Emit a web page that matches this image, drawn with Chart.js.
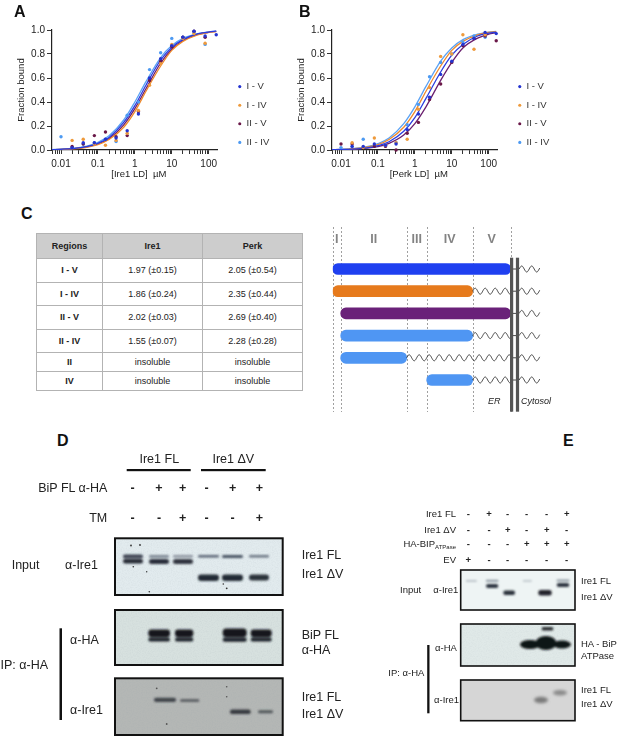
<!DOCTYPE html>
<html>
<head>
<meta charset="utf-8">
<script src="https://cdn.jsdelivr.net/npm/chart.js@4.4.1/dist/chart.umd.min.js"></script>
<style>
html,body{margin:0;padding:0;background:#fff;}
#root{position:relative;width:617px;height:736px;overflow:hidden;font-family:"Liberation Sans",Arial,Helvetica,sans-serif;color:#222;background:#fff;}
canvas{position:absolute;}
.letter{position:absolute;font-weight:bold;font-size:16px;line-height:16px;color:#111;}
table.kd{position:absolute;left:36px;top:233px;width:266px;border-collapse:collapse;table-layout:fixed;font-size:9px;color:#222;}
table.kd td,table.kd th{border:1px solid #b3b3b3;text-align:center;padding:0;}
table.kd th{background:#cdcdcd;font-weight:bold;height:24px;}
table.kd td.r{font-weight:bold;}
table.kd tr.a td{height:22.5px;}
table.kd tr.b td{height:18px;}
.sch{position:absolute;font-style:italic;font-size:9px;color:#222;}
svg{position:absolute;left:0;top:0;}
</style>
</head>
<body>
<div id="root">
  <canvas id="chartA" width="300" height="185" style="left:0;top:0;"></canvas>
  <canvas id="chartB" width="300" height="185" style="left:280px;top:0;"></canvas>
  <canvas id="chartC" width="297" height="230" style="left:320px;top:190px;"></canvas>
  <div class="letter" style="left:14px;top:4px;">A</div>
  <div class="letter" style="left:299px;top:4px;">B</div>
  <div class="letter" style="left:21px;top:206px;">C</div>
  <div class="letter" style="left:57px;top:433px;">D</div>
  <div class="letter" style="left:563px;top:433px;">E</div>

  <table class="kd">
    <colgroup><col style="width:66px"><col style="width:100px"><col style="width:100px"></colgroup>
    <tr><th>Regions</th><th>Ire1</th><th>Perk</th></tr>
    <tr class="a"><td class="r">I - V</td><td>1.97 (±0.15)</td><td>2.05 (±0.54)</td></tr>
    <tr class="a"><td class="r">I - IV</td><td>1.86 (±0.24)</td><td>2.35 (±0.44)</td></tr>
    <tr class="a"><td class="r">II - V</td><td>2.02 (±0.03)</td><td>2.69 (±0.40)</td></tr>
    <tr class="a"><td class="r">II - IV</td><td>1.55 (±0.07)</td><td>2.28 (±0.28)</td></tr>
    <tr class="b"><td class="r">II</td><td>insoluble</td><td>insoluble</td></tr>
    <tr class="b"><td class="r">IV</td><td>insoluble</td><td>insoluble</td></tr>
  </table>
  <div class="sch" style="left:488px;top:396px;">ER</div>
  <div class="sch" style="left:521px;top:396px;">Cytosol</div>

  <svg width="617" height="736" viewBox="0 0 617 736" font-family="Liberation Sans, Arial, sans-serif" fill="#222">
    <defs>
      <filter id="bl1" x="-30%" y="-200%" width="160%" height="500%"><feGaussianBlur stdDeviation="0.9"/></filter>
      <filter id="bl2" x="-30%" y="-200%" width="160%" height="500%"><feGaussianBlur stdDeviation="1.4"/></filter>
      <filter id="grain" x="0" y="0" width="100%" height="100%">
        <feTurbulence type="fractalNoise" baseFrequency="0.8" numOctaves="2" seed="7"/>
        <feColorMatrix type="matrix" values="0 0 0 0 0.3  0 0 0 0 0.35  0 0 0 0 0.4  0 0 0 -0.9 0.55"/>
      </filter>
    </defs>

    <!-- ===== Panel D ===== -->
    <g font-size="12.5">
      <text x="159.3" y="462.7" text-anchor="middle">Ire1 FL</text>
      <text x="233.3" y="462.7" text-anchor="middle">Ire1 ΔV</text>
      <rect x="126.7" y="469" width="64" height="2.2" fill="#111"/>
      <rect x="201" y="469" width="64.7" height="2.2" fill="#111"/>
      <text x="107.3" y="491.7" text-anchor="end">BiP FL α-HA</text>
      <text x="107.3" y="521.7" text-anchor="end">TM</text>
      <g text-anchor="middle" font-weight="bold">
        <text x="132.7" y="491.7">-</text><text x="159" y="491.7">+</text><text x="182.7" y="491.7">+</text>
        <text x="206.7" y="491.7">-</text><text x="232.7" y="491.7">+</text><text x="259.3" y="491.7">+</text>
        <text x="132.7" y="521.7">-</text><text x="159" y="521.7">-</text><text x="182.7" y="521.7">+</text>
        <text x="206.7" y="521.7">-</text><text x="232.7" y="521.7">-</text><text x="259.3" y="521.7">+</text>
      </g>
      <text x="11.7" y="569.4">Input</text>
      <text x="65" y="569.4">α-Ire1</text>
      <text x="301.7" y="559.4">Ire1 FL</text>
      <text x="301.7" y="577.7">Ire1 ΔV</text>
      <text x="0.5" y="669.4">IP: α-HA</text>
      <rect x="59.5" y="628.3" width="2.5" height="91.7" fill="#111"/>
      <text x="70" y="644.4">α-HA</text>
      <text x="70" y="714.4">α-Ire1</text>
      <text x="301.7" y="639.4">BiP FL</text>
      <text x="301.7" y="654.4">α-HA</text>
      <text x="301.7" y="701">Ire1 FL</text>
      <text x="301.7" y="717.7">Ire1 ΔV</text>
    </g>
    <!-- D input blot -->
    <rect x="115" y="538.3" width="167.7" height="56.7" fill="#e2ebee"/>
    <rect x="115" y="538.3" width="167.7" height="56.7" filter="url(#grain)" opacity="0.25"/>
    <g filter="url(#bl1)">
      <rect x="123" y="554.5" width="20" height="3.8" rx="1.9" fill="#3b4150"/>
      <rect x="123" y="559" width="20" height="4.5" rx="2.2" fill="#262b36"/>
      <rect x="149" y="555" width="20" height="2.8" rx="1.4" fill="#7c8592"/>
      <rect x="149" y="559" width="20" height="5" rx="2.5" fill="#2a2f3a"/>
      <rect x="173" y="555" width="20" height="2.6" rx="1.3" fill="#8a929e"/>
      <rect x="173" y="559" width="20" height="5" rx="2.5" fill="#30353f"/>
      <rect x="198" y="555" width="21" height="2.6" rx="1.3" fill="#5a6474"/>
      <rect x="198" y="574.5" width="21" height="6.5" rx="3" fill="#242934"/>
      <rect x="222" y="555" width="21" height="3" rx="1.5" fill="#4a5464"/>
      <rect x="222" y="574.5" width="21" height="6.5" rx="3" fill="#242934"/>
      <rect x="249" y="555" width="20" height="2.5" rx="1.2" fill="#6a7482"/>
      <rect x="249" y="574.5" width="20" height="6" rx="3" fill="#2c313b"/>
    </g>
    <g fill="#333">
      <circle cx="131" cy="545.5" r="0.9"/><circle cx="140" cy="545" r="0.9"/><circle cx="133.3" cy="566.7" r="0.8"/>
      <circle cx="146.7" cy="571.7" r="0.7"/><circle cx="149.3" cy="591.7" r="0.8"/><circle cx="226.7" cy="588.3" r="0.9"/><circle cx="223.3" cy="584" r="0.8"/>
    </g>
    <rect x="115" y="538.3" width="167.7" height="56.7" fill="none" stroke="#111" stroke-width="2"/>
    <!-- D alpha-HA blot -->
    <rect x="115" y="610" width="167.7" height="55" fill="#d7e1df"/>
    <rect x="115" y="610" width="167.7" height="55" filter="url(#grain)" opacity="0.25"/>
    <g filter="url(#bl1)" fill="#14171e">
      <rect x="148.3" y="629.5" width="21.7" height="7.5" rx="3"/>
      <rect x="148.3" y="637.5" width="21.7" height="4" rx="2" fill="#1e222a"/>
      <rect x="175" y="629.5" width="18.3" height="7.5" rx="3"/>
      <rect x="175" y="637.5" width="18.3" height="4" rx="2" fill="#1e222a"/>
      <rect x="222.7" y="628.5" width="24" height="8.5" rx="3.5"/>
      <rect x="222.7" y="637.5" width="24" height="4.2" rx="2" fill="#1e222a"/>
      <rect x="250.7" y="629.5" width="21" height="7.5" rx="3"/>
      <rect x="250.7" y="637.5" width="21" height="4" rx="2" fill="#1e222a"/>
    </g>
    <rect x="115" y="610" width="167.7" height="55" fill="none" stroke="#111" stroke-width="2"/>
    <!-- D IP alpha-Ire1 blot -->
    <rect x="115" y="678.3" width="167.7" height="56.7" fill="#b4b7b5"/>
    <rect x="115" y="678.3" width="167.7" height="56.7" filter="url(#grain)" opacity="0.3"/>
    <g filter="url(#bl1)">
      <rect x="154" y="697.8" width="22" height="4.2" rx="2" fill="#2e3138" opacity="0.85"/>
      <rect x="180" y="699" width="19.3" height="3" rx="1.5" fill="#44474d" opacity="0.75"/>
      <rect x="230" y="709.5" width="20.7" height="4.6" rx="2.2" fill="#2a2d33" opacity="0.9"/>
      <rect x="258" y="710.2" width="15" height="3" rx="1.5" fill="#3a3d42" opacity="0.8"/>
    </g>
    <g fill="#555">
      <circle cx="156.7" cy="688.3" r="0.9"/><circle cx="166.7" cy="724" r="0.9"/><circle cx="226.7" cy="696.7" r="0.8"/><circle cx="226.7" cy="686.7" r="0.8"/>
    </g>
    <rect x="115" y="678.3" width="167.7" height="56.7" fill="none" stroke="#111" stroke-width="2"/>

    <!-- ===== Panel E ===== -->
    <g font-size="9.5">
      <text x="456" y="517.4" text-anchor="end">Ire1 FL</text>
      <text x="456" y="532.7" text-anchor="end">Ire1 ΔV</text>
      <text x="456" y="546.7" text-anchor="end">HA-BIP<tspan font-size="6" dy="2">ATPase</tspan></text>
      <text x="456" y="562.7" text-anchor="end">EV</text>
      <g text-anchor="middle" font-weight="bold">
        <text x="468.3" y="517.4">-</text><text x="489" y="517.4">+</text><text x="507.7" y="517.4">-</text>
        <text x="526.7" y="517.4">-</text><text x="546.7" y="517.4">-</text><text x="566.7" y="517.4">+</text>
        <text x="468.3" y="532.7">-</text><text x="489" y="532.7">-</text><text x="507.7" y="532.7">+</text>
        <text x="526.7" y="532.7">-</text><text x="546.7" y="532.7">+</text><text x="566.7" y="532.7">-</text>
        <text x="468.3" y="546.7">-</text><text x="489" y="546.7">-</text><text x="507.7" y="546.7">-</text>
        <text x="526.7" y="546.7">+</text><text x="546.7" y="546.7">+</text><text x="566.7" y="546.7">+</text>
        <text x="468.3" y="562.7">+</text><text x="489" y="562.7">-</text><text x="507.7" y="562.7">-</text>
        <text x="526.7" y="562.7">-</text><text x="546.7" y="562.7">-</text><text x="566.7" y="562.7">-</text>
      </g>
      <text x="400" y="592.7">Input</text>
      <text x="433.3" y="592.7">α-Ire1</text>
      <text x="581" y="584.4">Ire1 FL</text>
      <text x="581" y="600">Ire1 ΔV</text>
      <text x="388.3" y="676">IP: α-HA</text>
      <rect x="427.2" y="645" width="2.3" height="68.3" fill="#111"/>
      <text x="435" y="651">α-HA</text>
      <text x="434" y="703.4">α-Ire1</text>
      <text x="581" y="646.7">HA - BiP</text>
      <text x="581" y="659.4">ATPase</text>
      <text x="581" y="693.4">Ire1 FL</text>
      <text x="581" y="706.7">Ire1 ΔV</text>
    </g>
    <!-- E input blot -->
    <rect x="460.7" y="570" width="114.3" height="40" fill="#eef4f4"/>
    <g filter="url(#bl1)">
      <rect x="466" y="580" width="10.7" height="1.8" fill="#b8c0c6"/>
      <rect x="523" y="580" width="8.7" height="1.8" fill="#c0c8cc"/>
      <rect x="486" y="579.8" width="12.3" height="2" fill="#8c96a0"/>
      <rect x="486" y="584" width="12.3" height="4" rx="2" fill="#2e3440"/>
      <rect x="503.3" y="590.5" width="11.7" height="4.5" rx="2" fill="#2a303a"/>
      <rect x="538.3" y="590" width="13.4" height="5.5" rx="2.5" fill="#20242c"/>
      <rect x="556.7" y="579.5" width="12.6" height="2" fill="#8c96a0"/>
      <rect x="556.7" y="583" width="12.6" height="4" rx="2" fill="#2e3440"/>
    </g>
    <rect x="460.7" y="570" width="114.3" height="40" fill="none" stroke="#111" stroke-width="1.6"/>
    <!-- E alpha-HA blot -->
    <rect x="460.7" y="624" width="114.3" height="42" fill="#e0e9e8"/>
    <rect x="460.7" y="624" width="114.3" height="42" filter="url(#grain)" opacity="0.2"/>
    <g filter="url(#bl1)" fill="#111418">
      <ellipse cx="530" cy="644.5" rx="10" ry="4.5"/>
      <ellipse cx="546" cy="643" rx="10.5" ry="7"/>
      <ellipse cx="562" cy="644.5" rx="9" ry="4"/>
      <rect x="541.7" y="627" width="11.6" height="3.5" rx="1.5" fill="#2a2d33"/>
    </g>
    <rect x="460.7" y="624" width="114.3" height="42" fill="none" stroke="#111" stroke-width="1.6"/>
    <!-- E IP alpha-Ire1 blot -->
    <rect x="460.7" y="680" width="114.3" height="40.7" fill="#d6d6d6"/>
    <g filter="url(#bl2)">
      <ellipse cx="541" cy="700" rx="7" ry="3.3" fill="#7a7a7a"/>
      <ellipse cx="560" cy="692.7" rx="7" ry="2.8" fill="#8a8a8a"/>
    </g>
    <rect x="460.7" y="680" width="114.3" height="40.7" fill="none" stroke="#111" stroke-width="1.6"/>
  </svg>
</div>

<script>
// ---------------- Data ----------------
const seriesNames = ['I - V', 'I - IV', 'II - V', 'II - IV'];
const xTickLabels = ['0.01', '0.1', '1', '10', '100'];
const xMajorTicks = [0.01, 0.1, 1, 10, 100];
const yTickValues = [0, 0.2, 0.4, 0.6, 0.8, 1.0];

// ligand concentrations (µM), 2-fold dilution series
const conc = [0.01, 0.02, 0.04, 0.08, 0.16, 0.31, 0.62, 1.25, 2.5, 5, 10, 20, 40, 80, 160];

// Panel A - Ire1 LD, fraction bound
const ireI_V   = [null, 0.02, 0.06, 0.06, 0.09, 0.10, 0.16, 0.30, 0.60, 0.76, 0.87, 0.94, 0.99, 0.95, 0.96];
const ireI_IV  = [null, 0.08, 0.09, 0.05, 0.04, 0.08, 0.14, 0.33, 0.54, 0.72, 0.88, 0.93, 0.97, 0.89, null];
const ireII_V  = [null, 0.03, 0.05, 0.12, 0.15, 0.11, 0.12, 0.32, 0.58, 0.74, 0.86, 0.94, 0.99, 0.94, null];
const ireII_IV = [0.11, 0.02, 0.05, 0.06, 0.09, 0.07, 0.29, 0.40, 0.67, 0.81, 0.93, 0.94, 0.98, 0.88, null];

// Panel B - Perk LD, fraction bound
const perkI_V   = [null, 0.03, 0.03, 0.05, 0.04, 0.05, 0.17, 0.30, 0.44, 0.63, 0.74, 0.88, 0.93, 0.98, 0.97];
const perkI_IV  = [null, 0.06, 0.02, 0.10, 0.04, 0.06, 0.09, 0.34, 0.52, 0.78, 0.80, 0.96, 0.84, 0.96, null];
const perkII_V  = [0.05, 0.05, 0.02, 0.03, 0.03, 0.00, 0.14, 0.23, 0.42, 0.55, 0.73, 0.87, 0.93, 0.95, 0.91];
const perkII_IV = [0.02, 0.03, 0.09, 0.03, 0.04, 0.06, 0.21, 0.38, 0.61, 0.73, 0.80, 0.90, 0.95, 0.94, null];

// fitted binding curves
const fitConc = [0.0057, 0.01, 0.02, 0.05, 0.1, 0.2, 0.5, 1, 2, 5, 10, 20, 50, 100, 160];
const ireFitI_V   = [0.003, 0.006, 0.012, 0.029, 0.056, 0.105, 0.23, 0.37, 0.54, 0.75, 0.855, 0.92, 0.967, 0.983, 0.99];
const ireFitI_IV  = [0.002, 0.005, 0.009, 0.023, 0.045, 0.087, 0.19, 0.32, 0.49, 0.70, 0.83, 0.905, 0.96, 0.98, 0.987];
const ireFitII_V  = [0.003, 0.005, 0.010, 0.026, 0.050, 0.095, 0.21, 0.345, 0.51, 0.725, 0.84, 0.913, 0.963, 0.981, 0.988];
const ireFitII_IV = [0.003, 0.007, 0.013, 0.032, 0.063, 0.118, 0.25, 0.40, 0.57, 0.77, 0.87, 0.93, 0.97, 0.985, 0.99];
const perkFitI_V   = [0.002, 0.004, 0.007, 0.018, 0.036, 0.069, 0.156, 0.27, 0.43, 0.65, 0.79, 0.88, 0.95, 0.974, 0.983];
const perkFitI_IV  = [0.002, 0.005, 0.009, 0.023, 0.045, 0.087, 0.19, 0.32, 0.49, 0.70, 0.83, 0.905, 0.96, 0.98, 0.987];
const perkFitII_V  = [0.0015, 0.003, 0.006, 0.015, 0.029, 0.056, 0.125, 0.22, 0.36, 0.58, 0.73, 0.85, 0.932, 0.965, 0.978];
const perkFitII_IV = [0.003, 0.006, 0.011, 0.027, 0.053, 0.10, 0.22, 0.36, 0.53, 0.74, 0.85, 0.92, 0.965, 0.982, 0.989];

// Panel C schematic: luminal-domain constructs (region boundaries in schematic units)
const constructs = ['I - V', 'I - IV', 'II - V', 'II - IV', 'II', 'IV'];
const regionLabels = ['I', 'II', 'III', 'IV', 'V'];
const regionBounds = [0, 8, 74, 94, 140, 178];
const constructStart = [0, 0, 8, 8, 8, 94];
const constructEnd = [178, 140, 178, 140, 74, 140];

// ---------------- Styles ----------------
const pointColors = ['#2434d0', '#ee9a3c', '#6a1848', '#4d9af2'];
const curveColors = ['#2a3de0', '#ef8a2a', '#6a1f6e', '#5aa2f5'];
const constructColors = ['#1f40f0', '#e67a1c', '#6a2179', '#4f96f3', '#4f96f3', '#4f96f3'];
const FONT = '"Liberation Sans", Arial, Helvetica, sans-serif';
Chart.defaults.font.family = FONT;
Chart.defaults.color = '#222';

function bindingChart(canvasId, xTitle, pts, fits) {
  const datasets = [];
  seriesNames.forEach((name, k) => {
    datasets.push({
      type: 'scatter', label: name,
      data: conc.map((c, i) => ({x: c, y: pts[k][i]})).filter(p => p.y !== null),
      backgroundColor: pointColors[k], borderColor: pointColors[k], borderWidth: 0,
      pointRadius: 1.7, pointBorderWidth: 0, pointHoverRadius: 1.7, clip: 6, order: 0
    });
  });
  seriesNames.forEach((name, k) => {
    datasets.push({
      type: 'line', label: name + ' fit',
      data: fitConc.map((c, i) => ({x: c, y: fits[k][i]})),
      borderColor: curveColors[k], backgroundColor: curveColors[k], borderWidth: 1.3,
      pointRadius: 0, pointHoverRadius: 0, fill: false, cubicInterpolationMode: 'monotone', order: 1
    });
  });
  return new Chart(document.getElementById(canvasId), {
    type: 'scatter',
    data: {datasets},
    options: {
      responsive: false, animation: false, events: [],
      layout: {padding: {left: 12, top: 30, right: 28, bottom: 4}},
      plugins: {
        tooltip: {enabled: false},
        legend: {
          position: 'right', align: 'center',
          title: {display: true, text: ' ', font: {size: 10}, padding: {top: 0, bottom: 6}},
          labels: {
            filter: item => item.datasetIndex < 4,
            usePointStyle: true, pointStyle: 'circle', boxWidth: 4, boxHeight: 2.2,
            padding: 9.1, color: '#333', font: {size: 9.5}
          }
        }
      },
      scales: {
        x: {
          type: 'logarithmic', min: 0.0057, max: 175,
          afterBuildTicks: s => {
            const t = [];
            [0.001, 0.01, 0.1, 1, 10].forEach(d => { for (let m = 1; m < 10; m++) t.push(+(d * m).toPrecision(3)); });
            t.push(100);
            s.ticks = t.filter(v => v > 0.0057 && v < 175).map(v => ({value: v}));
          },
          afterFit: s => { s.height = 31; },
          border: {display: true, color: '#222', width: 1.2},
          grid: {display: true, drawOnChartArea: false, drawTicks: true, tickLength: 4, tickColor: '#333', tickWidth: 1},
          ticks: {
            autoSkip: false, maxRotation: 0, padding: 4, font: {size: 10}, color: '#222',
            callback: v => { const i = xMajorTicks.indexOf(v); return i >= 0 ? xTickLabels[i] : ''; }
          },
          title: {display: true, text: '   ' + xTitle, font: {size: 9.5}, color: '#222', padding: {top: 0, bottom: 0.5}}
        },
        y: {
          type: 'linear', min: 0, max: 1,
          afterBuildTicks: s => { s.ticks = yTickValues.map(v => ({value: v})); },
          afterFit: s => { s.width = 40; },
          border: {display: true, color: '#222', width: 1.2},
          grid: {display: true, drawOnChartArea: false, drawTicks: true, tickLength: 5, tickColor: '#333'},
          ticks: {padding: 2, font: {size: 10}, color: '#222', callback: v => v.toFixed(1)},
          title: {display: true, text: 'Fraction bound', font: {size: 9.5}, color: '#222', padding: {top: 4, bottom: 0}}
        },
        gap: {
          type: 'linear', position: 'right', display: true,
          grid: {display: false, drawTicks: false}, ticks: {display: false}, border: {display: false},
          afterFit: s => { s.width = 11; }
        }
      }
    }
  });
}

bindingChart('chartA', '[Ire1 LD]  µM', [ireI_V, ireI_IV, ireII_V, ireII_IV], [ireFitI_V, ireFitI_IV, ireFitII_V, ireFitII_IV]);
bindingChart('chartB', '[Perk LD]  µM', [perkI_V, perkI_IV, perkII_V, perkII_IV], [perkFitI_V, perkFitI_IV, perkFitII_V, perkFitII_IV]);

// ---------------- Schematic (floating bars) ----------------
function wave(ctx, x0, x1, y, amp, len) {
  ctx.beginPath();
  for (let px = x0; px <= x1; px += 0.5) {
    const yy = y - amp * Math.sin(2 * Math.PI * (px - x0) / len);
    if (px === x0) ctx.moveTo(px, yy); else ctx.lineTo(px, yy);
  }
  ctx.stroke();
}
const schematicDecor = {
  id: 'schematicDecor',
  beforeDatasetsDraw(chart) {
    const {ctx, scales: {x}} = chart;
    ctx.save();
    ctx.strokeStyle = '#a0a0a0'; ctx.lineWidth = 1; ctx.setLineDash([2, 2]);
    regionBounds.forEach(b => {
      const px = Math.round(x.getPixelForValue(b)) + 0.5;
      ctx.beginPath(); ctx.moveTo(px, 37); ctx.lineTo(px, 222); ctx.stroke();
    });
    ctx.setLineDash([]);
    ctx.fillStyle = '#838383'; ctx.font = 'bold 12.5px ' + FONT;
    ctx.textAlign = 'center'; ctx.textBaseline = 'middle';
    regionLabels.forEach((t, i) => {
      ctx.fillText(t, x.getPixelForValue((regionBounds[i] + regionBounds[i + 1]) / 2), 50);
    });
    ctx.restore();
  },
  afterDatasetsDraw(chart) {
    const {ctx, scales: {x, y}} = chart;
    const last = regionBounds[regionBounds.length - 1];
    ctx.save();
    ctx.strokeStyle = '#333'; ctx.lineWidth = 0.9;
    constructs.forEach((c, i) => {
      const yc = y.getPixelForValue(i);
      if (constructEnd[i] < last) wave(ctx, x.getPixelForValue(constructEnd[i]), x.getPixelForValue(last), yc, 3, 10);
      ctx.beginPath(); ctx.moveTo(x.getPixelForValue(last + 2), yc); ctx.lineTo(x.getPixelForValue(last + 8), yc); ctx.stroke();
      wave(ctx, x.getPixelForValue(last + 8.5), x.getPixelForValue(last + 29), yc, 3, 10);
    });
    ctx.fillStyle = '#555';
    ctx.fillRect(x.getPixelForValue(last - 0.7), 67.7, 3.2, 154);
    ctx.fillRect(x.getPixelForValue(last + 5.2), 67.7, 3.2, 154);
    ctx.restore();
  }
};
new Chart(document.getElementById('chartC'), {
  type: 'bar',
  data: {
    labels: constructs,
    datasets: [{
      data: constructs.map((c, i) => [constructStart[i], constructEnd[i]]),
      backgroundColor: constructColors, borderWidth: 0, borderSkipped: false,
      borderRadius: 6, barThickness: 11
    }]
  },
  options: {
    indexAxis: 'y', responsive: false, animation: false, events: [],
    layout: {padding: {left: 12.7, right: 64.3, top: 67.9, bottom: 28.9}},
    plugins: {legend: {display: false}, tooltip: {enabled: false}},
    scales: {
      x: {type: 'linear', min: 0, max: 220, display: false},
      y: {type: 'category', display: false}
    }
  },
  plugins: [schematicDecor]
});
</script>
</body>
</html>
